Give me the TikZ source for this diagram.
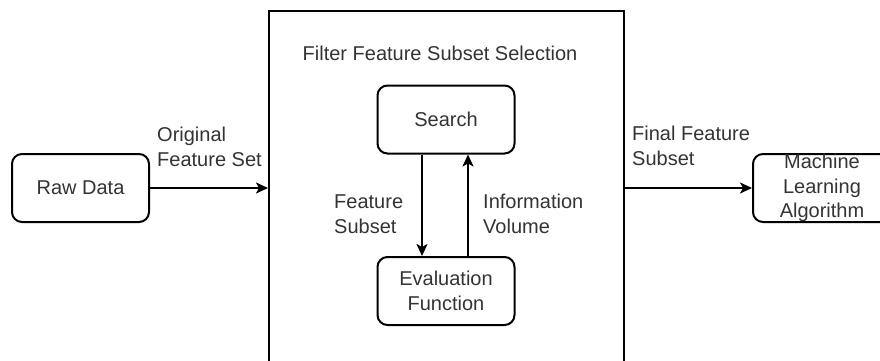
\documentclass[tikz,border=0pt]{standalone}
\usepackage{fontspec}
\setmainfont{Liberation Sans}
\usetikzlibrary{arrows.meta}
\definecolor{txt}{HTML}{333333}
\tikzset{
  box/.style={draw=black, line width=2pt, rounded corners=10pt, minimum width=137pt, minimum height=68pt, text=txt, align=center, inner sep=0pt},
  lbl/.style={text=txt, align=left, inner sep=0pt},
  flow/.style={draw=black, line width=2pt, -{Stealth[length=12pt,width=11pt,inset=3pt]}},
}
\begin{document}
\begin{tikzpicture}[x=1pt,y=-1pt,font=\fontsize{20}{24.5}\selectfont]
\useasboundingbox (0,0) rectangle (880,361);
\clip (0,0) rectangle (880,361);
% enclosing stage
\node[draw=black, line width=2pt, minimum width=355pt, minimum height=380pt, anchor=north west, inner sep=0pt] (stage) at (268,10) {};
\node[lbl] (title) at (440,53) {Filter Feature Subset Selection};
% blocks
\node[box] (raw) at (80.5,188) {Raw Data};
\node[box] (search) at (446,119.5) {Search};
\node[box] (eval) at (446,291) {Evaluation\\Function};
\node[box, minimum width=138pt] (ml) at (822,188) {Machine\\Learning\\Algorithm};
% connectors
\coordinate (inL) at (268,188);
\coordinate (outR) at (623,188);
\draw[flow] (raw.east) -- (inL);
\draw[flow] (outR) -- (ml.west);
\draw[flow] (search.south -| 422,0) -- (eval.north -| 422,0);
\draw[flow] (eval.north -| 468,0) -- (search.south -| 468,0);
% labels
\node[lbl, anchor=west] (l1) at (157,147) {Original\\Feature Set};
\node[lbl, anchor=west] (l2) at (632,146) {Final Feature\\Subset};
\node[lbl, anchor=west] (l3) at (334,214) {Feature\\Subset};
\node[lbl, anchor=west] (l4) at (483,214) {Information\\Volume};
\end{tikzpicture}
\end{document}
